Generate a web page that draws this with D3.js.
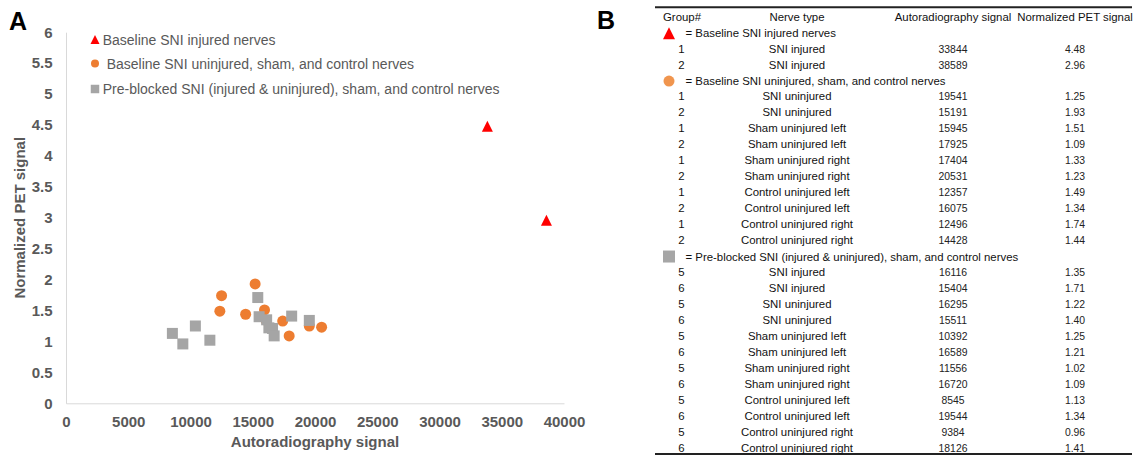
<!DOCTYPE html>
<html>
<head>
<meta charset="utf-8">
<script src="https://cdn.jsdelivr.net/npm/d3@7"></script>
<style>
  body { margin: 0; background: #fff; }
  svg { display: block; font-family: "Liberation Sans", Arial, sans-serif; }
  .axis text { fill: #595959; font-weight: bold; font-size: 15px; }
  .axis path { stroke: #d9d9d9; }
</style>
</head>
<body>
<div id="graph"></div>
<script>
// ---- data (from panel B table) ----
var seriesNames = [
    "Baseline SNI injured nerves",
    "Baseline SNI uninjured, sham, and control nerves",
    "Pre-blocked SNI (injured & uninjured), sham, and control nerves"
];

var injuredGroup = [1, 2];
var injuredNerve = ["SNI injured", "SNI injured"];
var injuredAuto = [33844, 38589];
var injuredPet = [4.48, 2.96];

var baselineGroup = [1, 2, 1, 2, 1, 2, 1, 2, 1, 2];
var baselineNerve = ["SNI uninjured", "SNI uninjured", "Sham uninjured left", "Sham uninjured left",
    "Sham uninjured right", "Sham uninjured right", "Control uninjured left", "Control uninjured left",
    "Control uninjured right", "Control uninjured right"];
var baselineAuto = [19541, 15191, 15945, 17925, 17404, 20531, 12357, 16075, 12496, 14428];
var baselinePet = [1.25, 1.93, 1.51, 1.09, 1.33, 1.23, 1.49, 1.34, 1.74, 1.44];

var blockedGroup = [5, 6, 5, 6, 5, 6, 5, 6, 5, 6, 5, 6];
var blockedNerve = ["SNI injured", "SNI injured", "SNI uninjured", "SNI uninjured",
    "Sham uninjured left", "Sham uninjured left", "Sham uninjured right", "Sham uninjured right",
    "Control uninjured left", "Control uninjured left", "Control uninjured right", "Control uninjured right"];
var blockedAuto = [16116, 15404, 16295, 15511, 10392, 16589, 11556, 16720, 8545, 19544, 9384, 18126];
var blockedPet = [1.35, 1.71, 1.22, 1.40, 1.25, 1.21, 1.02, 1.09, 1.13, 1.34, 0.96, 1.41];

var xTicks = [0, 5000, 10000, 15000, 20000, 25000, 30000, 35000, 40000];
var yTicks = [0, 0.5, 1, 1.5, 2, 2.5, 3, 3.5, 4, 4.5, 5, 5.5, 6];
var tableHeaders = ["Group#", "Nerve type", "Autoradiography signal", "Normalized PET signal"];

// ---- markers ----
var triType = {
    draw: function(ctx, size) {
        var h = Math.sqrt(size) / 2;
        ctx.moveTo(0, -h);
        ctx.lineTo(h, h);
        ctx.lineTo(-h, h);
        ctx.closePath();
    }
};
var shapes = [triType, d3.symbolCircle, d3.symbolSquare];
var colors = ["#ff0000", "#ed7d31", "#a5a5a5"];

var width = 1141;
var height = 458;

var svg = d3.select("#graph").append("svg")
    .attr("width", width)
    .attr("height", height);

// ================= panel A =================
var xScale = d3.scaleLinear().domain([0, 40000]).range([66, 564]);
var yScale = d3.scaleLinear().domain([0, 6]).range([403.3, 32.2]);

var xAxis = d3.axisBottom(xScale).tickValues(xTicks).tickSize(0).tickSizeOuter(0).tickPadding(13)
    .tickFormat(d3.format("d"));
var yAxis = d3.axisLeft(yScale).tickValues(yTicks).tickSize(0).tickSizeOuter(0).tickPadding(13.5)
    .tickFormat(function(d) { return String(d); });

svg.append("g")
    .attr("class", "axis")
    .attr("transform", "translate(0," + yScale(0) + ")")
    .call(xAxis);

svg.append("g")
    .attr("class", "axis")
    .attr("transform", "translate(" + xScale(0) + ",0)")
    .call(yAxis);

svg.selectAll(".axis text").attr("font-family", null);

svg.append("text")
    .attr("x", (xScale(0) + xScale(40000)) / 2)
    .attr("y", 446.5)
    .attr("text-anchor", "middle")
    .attr("fill", "#595959")
    .style("font-weight", "bold")
    .style("font-size", "15px")
    .text("Autoradiography signal");

svg.append("text")
    .attr("transform", "translate(25," + (yScale(0) + yScale(6)) / 2 + ") rotate(-90)")
    .attr("text-anchor", "middle")
    .attr("fill", "#595959")
    .style("font-weight", "bold")
    .style("font-size", "15px")
    .text("Normalized PET signal");

svg.append("text")
    .attr("x", 9).attr("y", 30)
    .style("font-weight", "bold").style("font-size", "25px")
    .text("A");

var plotSeries = [
    {auto: injuredAuto, pet: injuredPet, size: 121},
    {auto: baselineAuto, pet: baselinePet, size: Math.PI * 5.5 * 5.5},
    {auto: blockedAuto, pet: blockedPet, size: 121}
];

plotSeries.forEach(function(s, k) {
    svg.append("g").selectAll("path")
        .data(s.auto.map(function(a, i) { return [a, s.pet[i]]; }))
        .enter()
        .append("path")
        .attr("transform", function(d) { return "translate(" + xScale(d[0]) + "," + yScale(d[1]) + ")"; })
        .attr("d", d3.symbol().type(shapes[k]).size(s.size))
        .attr("fill", colors[k]);
});

// legend inside plot
var legendY = [39.5, 63.5, 89];
var legendTextX = [102.7, 106.7, 102.7];
var legendSize = [81, Math.PI * 4 * 4, 72];
var legend = svg.append("g");
seriesNames.forEach(function(name, k) {
    legend.append("path")
        .attr("transform", "translate(95," + legendY[k] + ")")
        .attr("d", d3.symbol().type(shapes[k]).size(legendSize[k]))
        .attr("fill", colors[k]);
    legend.append("text")
        .attr("x", legendTextX[k])
        .attr("y", legendY[k] + 5)
        .attr("fill", "#595959")
        .style("font-size", "14px")
        .text(name);
});

// ================= panel B =================
svg.append("text")
    .attr("x", 597).attr("y", 28.5)
    .style("font-weight", "bold").style("font-size", "25px")
    .text("B");

var colX = [681.5, 797, 953, 1075];
var rowY = d3.scaleLinear().domain([0, 27]).range([16.7, 447.5]);

var tableRows = [];
tableRows.push({type: "header"});
[[injuredGroup, injuredNerve, injuredAuto, injuredPet],
 [baselineGroup, baselineNerve, baselineAuto, baselinePet],
 [blockedGroup, blockedNerve, blockedAuto, blockedPet]].forEach(function(cols, k) {
    tableRows.push({type: "legend", k: k});
    cols[0].forEach(function(g, i) {
        tableRows.push({type: "row", vals: [g, cols[1][i], cols[2][i], d3.format(".2f")(cols[3][i])]});
    });
});

var table = svg.append("g").style("font-size", "11.4px");

table.append("line")
    .attr("x1", 655).attr("x2", 1132)
    .attr("y1", 7.3).attr("y2", 7.3)
    .attr("stroke", "#222").attr("stroke-width", 2);
table.append("line")
    .attr("x1", 655).attr("x2", 1132)
    .attr("y1", 454).attr("y2", 454)
    .attr("stroke", "#222").attr("stroke-width", 2);

var tableColors = ["#ff0000", "#f0954e", "#a6a6a6"];
var tableSize = [144, Math.PI * 5.5 * 5.5, 144];

tableRows.forEach(function(r, i) {
    var cy = rowY(i);
    if (r.type == "header") {
        tableHeaders.forEach(function(h, j) {
            table.append("text")
                .attr("x", j == 0 ? 663 : colX[j])
                .attr("y", cy + 4)
                .attr("text-anchor", j == 0 ? "start" : "middle")
                .attr("fill", "#111")
                .text(h);
        });
    } else if (r.type == "legend") {
        table.append("path")
            .attr("transform", "translate(669," + (cy + 0.5) + ")")
            .attr("d", d3.symbol().type(shapes[r.k]).size(tableSize[r.k]))
            .attr("fill", tableColors[r.k]);
        table.append("text")
            .attr("x", 685.5)
            .attr("y", cy + 4.5)
            .attr("fill", "#111")
            .text("= " + seriesNames[r.k]);
    } else {
        r.vals.forEach(function(v, j) {
            table.append("text")
                .attr("x", colX[j])
                .attr("y", cy + 4)
                .attr("text-anchor", "middle")
                .attr("fill", j >= 2 ? "#222" : "#111")
                .style("font-size", j >= 2 ? "10.4px" : null)
                .text(v);
        });
    }
});
</script>
</body>
</html>
